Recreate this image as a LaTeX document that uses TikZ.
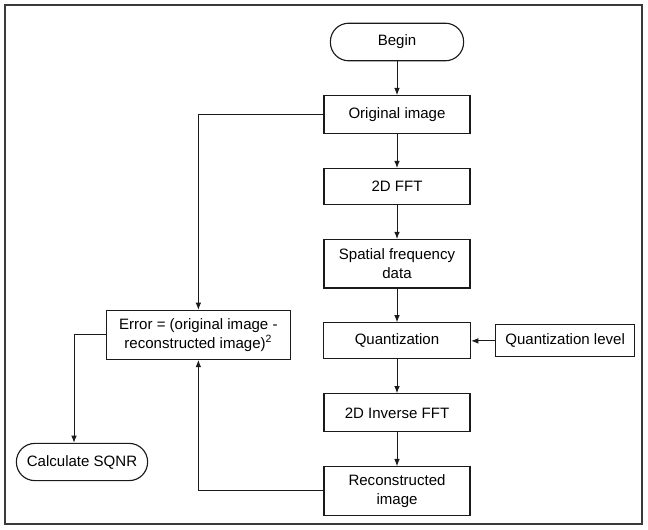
\documentclass[tikz,border=0pt]{standalone}
\usepackage{fontspec}
\setmainfont{Liberation Sans}
\usepackage{xcolor}
\definecolor{cLine}{HTML}{1A1A1A}
\definecolor{cFrame}{HTML}{3A3A3A}
\usepackage{tikz}
\usetikzlibrary{positioning,arrows.meta}
\newcommand{\flowfont}{\fontsize{10.7}{13.5}\selectfont}
\tikzset{
  node-box/.style={draw=cLine,line width=0.8pt,minimum width=36.5mm,
    minimum height=9mm,align=center,font=\flowfont,inner sep=1pt},
  node-tall/.style={minimum height=12.1mm},
  node-term/.style={draw=cLine,line width=0.8pt,rounded corners=4.6mm,
    minimum height=9.4mm,align=center,font=\flowfont,inner sep=1pt},
  arrow/.style={-{Latex[length=1.8mm,width=1.4mm]},line width=0.7pt,draw=cLine},
}

\begin{document}
\begin{tikzpicture}[node distance=8.45mm]
  \useasboundingbox (0,0) rectangle (16.2,-13.225);
  \draw[cFrame,line width=0.8pt] (0.125,-0.125) rectangle (16.05,-13.1);

  % main column
  \node[node-term,minimum width=33.3mm] (begin) at (9.925,-1.05) {Begin};
  \node[node-box,minimum height=9.5mm,below=of begin] (orig) {Original image};
  \node[node-box,below=of orig] (fft) {2D FFT};
  \node[node-box,node-tall,below=of fft] (spat) {Spatial frequency\\data};
  \node[node-box,minimum width=36.75mm,below=of spat] (quant) {Quantization};
  \node[node-box,minimum height=9.5mm,below=of quant] (ifft) {2D Inverse FFT};
  \node[node-box,node-tall,below=of ifft] (recon) {Reconstructed\\image};

  % side nodes
  \node[node-box,minimum width=34.75mm,minimum height=8mm,right=6mm of quant] (qlevel) {Quantization level};
  \node[node-box,minimum width=46mm,minimum height=12.25mm,left=8mm of quant,yshift=1.5mm] (err)
    {Error = (original image -\\reconstructed image)\textsuperscript{2}};
  \node[node-term,minimum width=32.8mm,minimum height=9.3mm] (sqnr) at (2.05,-11.55) {Calculate SQNR};

  \draw[arrow] (begin) -- (orig);
  \draw[arrow] (orig) -- (fft);
  \draw[arrow] (fft) -- (spat);
  \draw[arrow] (spat) -- (quant);
  \draw[arrow] (quant) -- (ifft);
  \draw[arrow] (ifft) -- (recon);
  \draw[arrow] (qlevel) -- (quant);
  \draw[arrow] (orig.west) -| (err.north);
  \draw[arrow] (recon.west) -| (err.south);
  \draw[arrow] (err.west) -| ([xshift=-2mm]sqnr.north);
\end{tikzpicture}
\end{document}
